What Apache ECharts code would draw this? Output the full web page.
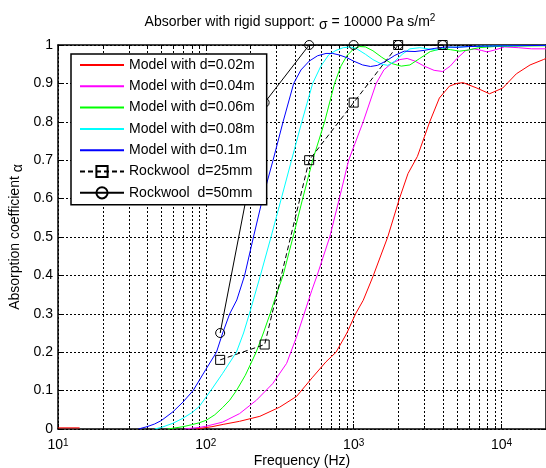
<!DOCTYPE html>
<html>
<head>
<meta charset="utf-8">
<script src="https://cdn.jsdelivr.net/npm/echarts@6/dist/echarts.min.js"></script>
<style>
html, body { margin: 0; padding: 0; background: #fff; }
#chart { width: 546px; height: 468px; }
</style>
</head>
<body>
<div id="chart"></div>
<script>
// Absorption coefficient of a porous layer on a rigid backing (sigma = 10000 Pa s/m^2)
// Each curve is a list of [frequency in Hz, absorption coefficient] pairs.
const seriesNames = [
  'Model with d=0.02m',
  'Model with d=0.04m',
  'Model with d=0.06m',
  'Model with d=0.08m',
  'Model with d=0.1m',
  'Rockwool  d=25mm',
  'Rockwool  d=50mm'
];

const model002 = [[10,0.003],[14,0.003],[14.5,null],
  [86,0],[110,0.006],[131,0.012],[169,0.02],[232,0.033],[316,0.057],[411,0.085],
  [528,0.135],[650,0.175],[760,0.20],[900,0.25],[1030,0.30],[1160,0.335],[1350,0.397],
  [1700,0.50],[2040,0.60],[2330,0.665],[2700,0.71],[3270,0.80],[3800,0.862],[4450,0.893],
  [5000,0.90],[5500,0.902],[6800,0.888],[8300,0.873],[10200,0.888],[12600,0.925],
  [15600,0.948],[19200,0.962],[20000,0.965]];

const model004 = [[72,0],[80,0.002],[90,0.004],[100,0.007],[130,0.018],[169,0.04],[220,0.075],
  [283,0.118],[352,0.171],[411,0.24],[479,0.318],[520,0.36],[566,0.40],[689,0.50],[800,0.60],
  [925,0.70],[1160,0.80],[1420,0.90],[1600,0.935],[1800,0.952],[2050,0.962],[2300,0.965],
  [2600,0.958],[3000,0.945],[3500,0.934],[4000,0.931],[4500,0.945],[5000,0.965],[5700,0.985],
  [6500,0.99],[7300,0.986],[8000,0.982],[9000,0.987],[10500,0.995],[13000,0.993],[16000,0.99],
  [20000,0.99]];

const model006 = [[55,0],[60,0.002],[70,0.006],[80,0.011],[90,0.016],[101,0.023],[115,0.037],
  [130,0.056],[145,0.075],[161,0.10],[185,0.14],[219,0.20],[245,0.25],[272,0.30],[300,0.35],
  [333,0.40],[389,0.50],[452,0.60],[528,0.70],[636,0.80],[743,0.90],[820,0.945],[900,0.972],
  [1000,0.99],[1100,0.996],[1200,0.995],[1350,0.985],[1550,0.968],[1800,0.952],[2100,0.945],
  [2400,0.948],[2800,0.965],[3300,0.983],[3900,0.99],[4500,0.988],[5200,0.984],[6000,0.987],
  [7000,0.993],[9000,0.996],[12000,0.997],[20000,0.998]];

const model008 = [[45,0],[50,0.004],[60,0.015],[70,0.028],[80,0.042],[90,0.058],[108,0.10],
  [130,0.145],[161,0.20],[180,0.25],[197,0.30],[234,0.40],[276,0.50],[324,0.60],[380,0.70],
  [446,0.80],[528,0.90],[600,0.945],[680,0.975],[760,0.986],[850,0.993],[950,0.995],[1050,0.99],
  [1200,0.976],[1350,0.962],[1550,0.95],[1700,0.947],[1900,0.958],[2150,0.977],[2400,0.99],
  [2800,0.993],[3200,0.99],[3600,0.987],[4000,0.99],[4500,0.994],[5500,0.995],[7000,0.997],
  [10000,0.998],[20000,0.999]];

const model010 = [[35,0],[40,0.006],[45,0.013],[50,0.022],[60,0.045],[70,0.07],[82,0.10],
  [100,0.155],[118,0.20],[130,0.25],[145,0.30],[162,0.336],[183,0.40],[210,0.50],[242,0.60],
  [285,0.70],[333,0.80],[393,0.90],[440,0.935],[500,0.958],[570,0.972],[650,0.978],[720,0.978],
  [800,0.974],[900,0.967],[1000,0.958],[1150,0.948],[1300,0.944],[1450,0.947],[1650,0.958],
  [1900,0.973],[2200,0.984],[2600,0.983],[3000,0.986],[3500,0.991],[4200,0.995],[5000,0.994],
  [6000,0.996],[8000,0.997],[11000,0.998],[20000,0.999]];

// Measured rockwool panels (octave band centres)
const rockwool25 = [[125,0.18],[250,0.22],[500,0.70],[1000,0.85],[2000,1.0],[4000,1.0]];
const rockwool50 = [[125,0.25],[250,0.85],[500,1.0],[1000,1.0],[2000,1.0],[4000,1.0]];

// Logarithmic frequency ticks
const majorTicks = [10, 100, 1000, 10000];
const minorTicks = [20,30,40,50,60,70,80,90,200,300,400,500,600,700,800,900,
  2000,3000,4000,5000,6000,7000,8000,9000];

const FONT = '"Liberation Sans", Arial, Helvetica, sans-serif';
const FS = 14;
const chart = echarts.init(document.getElementById('chart'), null, { renderer: 'canvas' });

function modelSeries(name, data, color) {
  return {
    name: name, type: 'line', data: data, xAxisIndex: 0, yAxisIndex: 0,
    symbol: 'none', showSymbol: false, connectNulls: false, z: 3,
    lineStyle: { color: color, width: 1 },
    itemStyle: { color: color }
  };
}

function measuredSeries(name, data, symbol, dashed) {
  return {
    name: name, type: 'line', data: data, xAxisIndex: 0, yAxisIndex: 0,
    symbol: symbol, symbolSize: 9, showSymbol: true, z: 4,
    lineStyle: { color: '#000', width: 1, type: dashed ? [5, 3] : 'solid' },
    itemStyle: { color: 'rgba(255,255,255,0)', borderColor: '#000', borderWidth: 1 }
  };
}

// Dotted vertical grid lines and short tick marks at the minor log ticks
const minorGrid = {
  type: 'custom', xAxisIndex: 0, yAxisIndex: 0, z: 1, silent: true,
  data: minorTicks.map(v => [v]),
  encode: { x: 0 },
  renderItem: function (params, api) {
    const f = api.value(0);
    const b = api.coord([f, 0]);
    const t = api.coord([f, 1]);
    const x = Math.round(b[0]) + 0.5;
    return {
      type: 'group',
      children: [
        { type: 'line', shape: { x1: x, y1: b[1], x2: x, y2: t[1] },
          style: { stroke: '#000', lineWidth: 1, lineDash: [2, 2] } },
        { type: 'line', shape: { x1: x, y1: b[1], x2: x, y2: b[1] - 3 },
          style: { stroke: '#000', lineWidth: 1 } },
        { type: 'line', shape: { x1: x, y1: t[1], x2: x, y2: t[1] + 3 },
          style: { stroke: '#000', lineWidth: 1 } }
      ]
    };
  }
};

// Legend entries: plain line samples for the model curves
const legendItems = seriesNames.map((n, i) => i < 5
  ? { name: n, itemStyle: { color: 'rgba(0,0,0,0)', borderColor: 'rgba(0,0,0,0)', borderWidth: 0 } }
  : { name: n });

const option = {
  animation: false,
  backgroundColor: '#fff',
  textStyle: { fontFamily: FONT, color: '#000' },
  title: {
    text: 'Absorber with rigid support: {s|σ} = 10000 Pa s/m{sup|2}',
    left: 290, top: 13, textAlign: 'center', padding: 0,
    textStyle: {
      fontFamily: FONT, fontSize: FS, fontWeight: 'normal', color: '#000',
      rich: {
        s: { fontFamily: FONT, fontSize: FS, color: '#000', padding: [5, 0, 0, 0], verticalAlign: 'bottom' },
        sup: { fontFamily: FONT, fontSize: 10, color: '#000', verticalAlign: 'top' }
      }
    }
  },
  legend: {
    data: legendItems,
    orient: 'vertical',
    left: 71, top: 54,
    padding: [4, 12, 5, 8],
    itemWidth: 44, itemHeight: 14, itemGap: 7.3,
    backgroundColor: '#fff',
    borderColor: '#000', borderWidth: 1.5,
    textStyle: { fontFamily: FONT, fontSize: FS, color: '#000' },
    z: 10
  },
  grid: { left: 58, right: 0, top: 45, bottom: 39, outerBoundsMode: 'none', containLabel: false },
  xAxis: [
    {
      type: 'log', logBase: 10, min: 10, max: 20000, position: 'bottom',
      name: 'Frequency (Hz)', nameLocation: 'middle', nameGap: 25, nameMoveOverlap: false,
      nameTextStyle: { fontFamily: FONT, fontSize: FS, color: '#000' },
      axisLine: { show: true, onZero: false, lineStyle: { color: '#000', width: 1.5 } },
      axisTick: { show: true, inside: true, length: 5, lineStyle: { color: '#000' } },
      minorTick: { show: false },
      splitLine: { show: true, lineStyle: { color: '#000', width: 1, type: [2, 2] } },
      axisLabel: {
        margin: 9, fontFamily: FONT, fontSize: FS, color: '#000',
        showMaxLabel: false,
        formatter: function (v) {
          const e = Math.round(Math.log10(v));
          if (majorTicks.indexOf(Math.round(v)) < 0) return '';
          return '10{sup|' + e + '}';
        },
        rich: { sup: { fontFamily: FONT, fontSize: 10, color: '#000', verticalAlign: 'top' } }
      }
    },
    {
      type: 'log', logBase: 10, min: 10, max: 20000, position: 'top',
      axisLine: { show: true, onZero: false, lineStyle: { color: '#000', width: 1.5 } },
      axisTick: { show: true, inside: true, length: 5, lineStyle: { color: '#000' } },
      axisLabel: { show: false }, splitLine: { show: false }
    }
  ],
  yAxis: [
    {
      type: 'value', min: 0, max: 1, interval: 0.1, position: 'left',
      name: 'Absorption coefficient {a|α}', nameLocation: 'middle', nameGap: 33, nameRotate: 90,
      nameMoveOverlap: false,
      nameTextStyle: {
        fontFamily: FONT, fontSize: FS, color: '#000',
        rich: { a: { fontFamily: FONT, fontSize: FS, color: '#000', padding: [6, 0, 0, 0], verticalAlign: 'bottom' } }
      },
      axisLine: { show: true, onZero: false, lineStyle: { color: '#000', width: 1.5 } },
      axisTick: { show: true, inside: true, length: 5, lineStyle: { color: '#000' } },
      splitLine: { show: true, lineStyle: { color: '#000', width: 1, type: [2, 2] } },
      axisLabel: { margin: 5, fontFamily: FONT, fontSize: FS, color: '#000' }
    },
    {
      type: 'value', min: 0, max: 1, interval: 0.1, position: 'right',
      axisLine: { show: true, onZero: false, lineStyle: { color: '#000', width: 1.5 } },
      axisTick: { show: true, inside: true, length: 5, lineStyle: { color: '#000' } },
      axisLabel: { show: false }, splitLine: { show: false }
    }
  ],
  series: [
    minorGrid,
    modelSeries(seriesNames[0], model002, '#ff0000'),
    modelSeries(seriesNames[1], model004, '#ff00ff'),
    modelSeries(seriesNames[2], model006, '#00ff00'),
    modelSeries(seriesNames[3], model008, '#00ffff'),
    modelSeries(seriesNames[4], model010, '#0000ff'),
    measuredSeries(seriesNames[5], rockwool25, 'rect', true),
    measuredSeries(seriesNames[6], rockwool50, 'circle', false)
  ]
};

chart.setOption(option);
</script>
</body>
</html>
